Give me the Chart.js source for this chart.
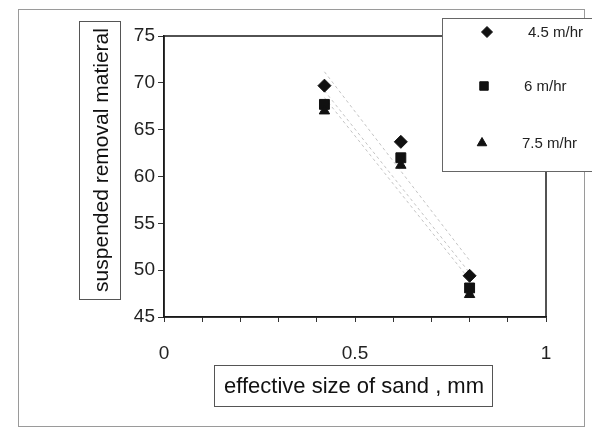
<!DOCTYPE html>
<html>
<head>
<meta charset="utf-8">
<script src="https://cdn.jsdelivr.net/npm/chart.js@4/dist/chart.umd.min.js"></script>
<style>
  html, body { margin: 0; padding: 0; background: #fff; }
  #wrap { width: 592px; height: 439px; }
</style>
</head>
<body>
<div id="wrap"><canvas id="c" width="592" height="439"></canvas></div>
<script>
// Effective sand size (mm) and suspended material removal for three filtration rates
const sandSize = [0.42, 0.62, 0.8];
const rate45 = [69.7, 63.7, 49.4];
const rate6 = [67.7, 62.0, 48.1];
const rate75 = [67.0, 61.2, 47.4];
const seriesNames = ['4.5 m/hr', '6 m/hr', '7.5 m/hr'];
const yTicks = [45, 50, 55, 60, 65, 70, 75];
const xLabelled = [0, 0.5, 1];
const xTitle = 'effective size of sand , mm';
const yTitle = 'suspended removal matieral';

const FONT = '"Liberation Sans", Arial, sans-serif';
const styles = ['rectRot', 'rect', 'triangle'];
const radii = [6.5, 7, 6];
const series = [rate45, rate6, rate75];

// least-squares line through one series, evaluated at the first and last sand size
function fitLine(ys) {
  const n = sandSize.length;
  const mx = sandSize.reduce((a, b) => a + b, 0) / n;
  const my = ys.reduce((a, b) => a + b, 0) / n;
  let sxy = 0, sxx = 0;
  for (let i = 0; i < n; i++) {
    sxy += (sandSize[i] - mx) * (ys[i] - my);
    sxx += (sandSize[i] - mx) ** 2;
  }
  const k = sxy / sxx;
  const x0 = sandSize[0], x1 = sandSize[n - 1];
  return [{ x: x0, y: my + k * (x0 - mx) }, { x: x1, y: my + k * (x1 - mx) }];
}

const datasets = [];
series.forEach((ys, i) => {
  datasets.push({
    label: seriesNames[i] + ' trend',
    data: fitLine(ys),
    showLine: true,
    borderColor: '#c4c4c4',
    borderWidth: 1,
    borderDash: [3, 3],
    pointRadius: 0,
    order: 10
  });
});
series.forEach((ys, i) => {
  datasets.push({
    label: seriesNames[i],
    data: sandSize.map((x, j) => ({ x, y: ys[j] })),
    pointStyle: styles[i],
    pointRadius: radii[i],
    pointBackgroundColor: '#111',
    pointBorderColor: '#111',
    pointBorderWidth: 1,
    showLine: false,
    order: 3 - i
  });
});

const framePlugin = {
  id: 'frame',
  beforeDraw(chart) {
    const ctx = chart.ctx;
    ctx.save();
    ctx.fillStyle = '#fff';
    ctx.fillRect(0, 0, chart.width, chart.height);
    ctx.strokeStyle = '#9a9a9a';
    ctx.lineWidth = 1;
    ctx.strokeRect(18.5, 9.5, 566, 417);
    ctx.restore();
  },
  beforeDatasetsDraw(chart) {
    const { ctx, chartArea: a } = chart;
    ctx.save();
    ctx.strokeStyle = '#1a1a1a';
    ctx.lineWidth = 1.5;
    ctx.strokeRect(a.left, a.top, a.right - a.left, a.bottom - a.top);
    ctx.restore();
  },
  afterDraw(chart) {
    const ctx = chart.ctx;
    ctx.save();
    // boxed axis titles
    ctx.fillStyle = '#111';
    ctx.strokeStyle = '#555';
    ctx.lineWidth = 1;
    ctx.strokeRect(214.5, 365.5, 278, 41);
    ctx.font = '22px ' + FONT;
    ctx.textAlign = 'center';
    ctx.textBaseline = 'middle';
    ctx.fillText(xTitle, 354, 387);

    ctx.strokeRect(79.5, 21.5, 41, 278);
    ctx.font = '21px ' + FONT;
    ctx.translate(101, 160);
    ctx.rotate(-Math.PI / 2);
    ctx.fillText(yTitle, 0, 1);
    ctx.restore();

    // legend box in the upper right
    ctx.save();
    ctx.fillStyle = '#fff';
    ctx.fillRect(442, 18, 150, 154);
    ctx.strokeStyle = '#666';
    ctx.lineWidth = 1;
    ctx.strokeRect(442.5, 18.5, 160, 153);
    const rows = [32, 86, 143];
    const mx = [487, 484, 482];
    const tx = [528, 524, 522];
    ctx.font = '15px ' + FONT;
    ctx.textAlign = 'left';
    ctx.textBaseline = 'middle';
    for (let i = 0; i < 3; i++) {
      ctx.fillStyle = '#111';
      ctx.strokeStyle = '#111';
      Chart.helpers.drawPoint(ctx, { pointStyle: styles[i], radius: i === 1 ? 6 : 5.5, borderWidth: 1 }, mx[i], rows[i]);
      ctx.fillStyle = '#222';
      ctx.fillText(seriesNames[i], tx[i], rows[i] + 1);
    }
    ctx.restore();
  }
};

new Chart(document.getElementById('c'), {
  type: 'scatter',
  data: { datasets },
  plugins: [framePlugin],
  options: {
    responsive: false,
    animation: false,
    devicePixelRatio: 1,
    layout: { padding: { left: 0, right: 46, top: 36, bottom: 0 } },
    plugins: {
      legend: { display: false },
      tooltip: { enabled: false }
    },
    scales: {
      x: {
        type: 'linear',
        min: 0,
        max: 1,
        afterFit(scale) { scale.height = 122; },
        afterBuildTicks(scale) {
          const t = [];
          for (let i = 0; i <= 10; i++) t.push({ value: i / 10 });
          scale.ticks = t;
        },
        grid: { drawOnChartArea: false, drawTicks: true, tickLength: 5, color: '#333', lineWidth: 1 },
        border: { display: true, color: '#1a1a1a', width: 1.5 },
        ticks: {
          padding: 20,
          maxRotation: 0,
          autoSkip: false,
          color: '#222',
          font: { family: FONT, size: 19 },
          callback(v) {
            const hit = xLabelled.find(l => Math.abs(l - v) < 1e-6);
            return hit === undefined ? '' : String(hit);
          }
        }
      },
      y: {
        type: 'linear',
        min: 45,
        max: 75,
        afterFit(scale) { scale.width = 164; },
        afterBuildTicks(scale) { scale.ticks = yTicks.map(v => ({ value: v })); },
        grid: { drawOnChartArea: false, drawTicks: true, tickLength: 6, color: '#333', lineWidth: 1 },
        border: { display: true, color: '#1a1a1a', width: 1.5 },
        ticks: {
          padding: 3,
          color: '#222',
          font: { family: FONT, size: 19 }
        }
      }
    }
  }
});
</script>
</body>
</html>
